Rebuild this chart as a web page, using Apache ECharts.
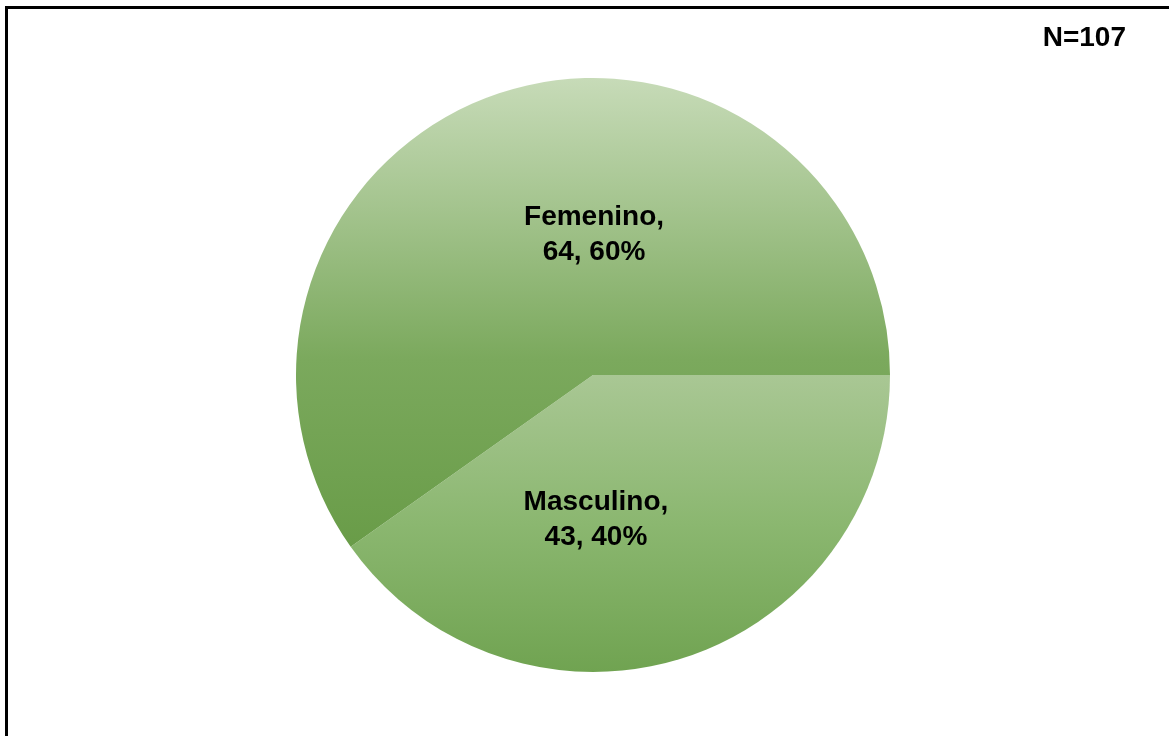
<!DOCTYPE html>
<html lang="es">
<head>
  <meta charset="UTF-8">
  <title>Sexo</title>
  <script src="https://cdn.jsdelivr.net/npm/echarts@6/dist/echarts.min.js"></script>
</head>
<body style="margin:0;background:#fff">
  <div id="main" style="width:1169px;height:736px;"></div>
  <script type="text/javascript">
    var myChart = echarts.init(document.getElementById('main'));

    // datos
    const categories = ['Masculino', 'Femenino'];
    const values = [43, 64];
    const percents = [40, 60];
    const total = 107;

    // degradados de cada sector (claro arriba, oscuro abajo)
    const fills = [
      [[0, '#a9c794'], [0.5, '#8bb770'], [1, '#70a351']],
      [[0, '#c7dbb8'], [0.6, '#7ba95d'], [1, '#699c48']]
    ];
    // desplazamiento de la etiqueta para centrarla como en el original
    const labelOffsets = [[-43, 0], [47, 4]];

    const pieData = categories.map((name, i) => ({
      name: name,
      value: values[i],
      pct: percents[i],
      itemStyle: {
        color: new echarts.graphic.LinearGradient(0, 0, 0, 1,
          fills[i].map(s => ({ offset: s[0], color: s[1] })))
      },
      label: { offset: labelOffsets[i] }
    }));

    const option = {
      animation: false,
      graphic: [{
        type: 'rect',
        shape: { x: 6.5, y: 7.5, width: 1200, height: 800 },
        style: { fill: 'none', stroke: '#000', lineWidth: 3 },
        silent: true
      }],
      title: {
        text: 'N=' + total,
        right: 38,
        top: 19,
        textStyle: {
          fontFamily: 'Liberation Sans, Arial',
          fontWeight: 'bold',
          fontSize: 28,
          color: '#000'
        }
      },
      series: [{
        type: 'pie',
        center: [593, 375],
        radius: [0, 297],
        startAngle: 0,
        clockwise: true,
        silent: true,
        itemStyle: { borderWidth: 0 },
        label: {
          show: true,
          position: 'inside',
          fontFamily: 'Liberation Sans, Arial',
          fontWeight: 'bold',
          fontSize: 28,
          lineHeight: 35,
          color: '#000',
          align: 'center',
          formatter: p => p.name + ',\n' + p.value + ', ' + p.data.pct + '%'
        },
        labelLine: { show: false },
        data: pieData
      }]
    };

    myChart.setOption(option);
  </script>
</body>
</html>
